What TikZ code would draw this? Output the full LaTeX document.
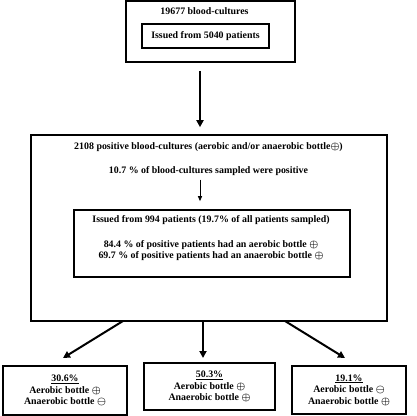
\documentclass[tikz,border=0pt]{standalone}
\usepackage{fontspec}
\setmainfont{Liberation Serif}
\usetikzlibrary{arrows.meta}
\newcommand{\pplus}{{\boldmath$\oplus$}}
\newcommand{\mminus}{{\boldmath$\ominus$}}
\begin{document}
\begin{tikzpicture}[x=1pt,y=1pt,
  box/.style={draw,line width=1.6pt,inner sep=0pt},
  txt/.style={font=\fontsize{9.9}{11.5}\selectfont\bfseries,inner sep=0pt,align=center},
  bigarr/.style={line width=2pt,-{Triangle[length=7pt,width=7pt]}},
  smallarr/.style={line width=0.9pt,-{Triangle[length=5pt,width=4pt]}}]
\useasboundingbox (0,0) rectangle (416,-416);
\fill[white] (0,0) rectangle (416,-416);
% top
\node[box,minimum width=169pt,minimum height=61pt] (top) at (210.5,-31.5) {};
\node[txt] (t1) at (204.5,-11) {19677 blood-cultures};
\node[box,minimum width=127pt,minimum height=24pt,txt] (t2) at (205.5,-36) {Issued from 5040 patients};
% middle
\node[box,minimum width=356pt,minimum height=186pt] (mid) at (209,-228) {};
\node[txt] (m1) at (208.5,-147) {2108 positive blood-cultures (aerobic and/or anaerobic bottle\pplus)};
\node[txt] (m2) at (208.5,-171) {10.7 \% of blood-cultures sampled were positive};
\node[box,minimum width=276pt,minimum height=67pt] (inner) at (212,-243.5) {};
\node[txt] (i1) at (211,-220) {Issued from 994 patients (19.7\% of all patients sampled)};
\node[txt,font=\fontsize{9.9}{11}\selectfont\bfseries] (i2) at (211,-250.5) {84.4 \% of positive patients had an aerobic bottle \pplus\\69.7 \% of positive patients had an anaerobic bottle \pplus};
% bottom
\node[box,minimum width=124pt,minimum height=49pt,txt] (b1) at (65,-390.5) {\underline{30.6\%}\\Aerobic bottle \pplus\\Anaerobic bottle \mminus};
\node[box,minimum width=131pt,minimum height=47pt,txt] (b2) at (209.5,-386.5) {\underline{50.3\%}\\Aerobic bottle \pplus\\Anaerobic bottle \pplus};
\node[box,minimum width=114pt,minimum height=48pt,txt] (b3) at (349,-390) {\underline{19.1\%}\\Aerobic bottle \mminus\\Anaerobic bottle \pplus};
% connectors
\coordinate (ax) at (200,0);
\draw[bigarr,shorten <=8pt,shorten >=7pt] (top.south -| ax) -- (mid.north -| ax);
\draw[smallarr,shorten <=4pt,shorten >=8pt] (m2.south -| ax) -- (inner.north -| ax);
\coordinate (s1) at (123,-321);
\coordinate (e1) at (63,-358);
\coordinate (s2) at (203,-321);
\coordinate (e2) at (203,-358);
\coordinate (s3) at (285,-321);
\coordinate (e3) at (345,-358);
\draw[bigarr] (s1) -- (e1);
\draw[bigarr] (s2) -- (e2);
\draw[bigarr] (s3) -- (e3);
\end{tikzpicture}
\end{document}
